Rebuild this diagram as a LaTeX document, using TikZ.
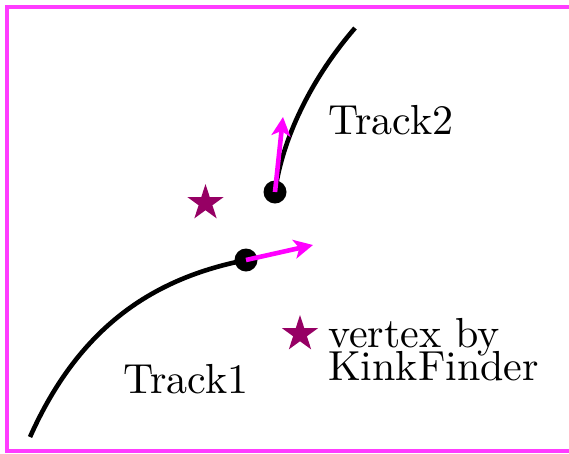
\documentclass[tikz,border=0pt]{standalone}
\usepackage{fontspec}
\setmainfont{lmroman10-regular}[Extension=.otf]
\usetikzlibrary{shapes.geometric,arrows.meta}
\definecolor{vtxpurple}{RGB}{150,0,100}
\definecolor{mag}{RGB}{255,0,255}
\definecolor{framemag}{RGB}{255,60,255}
\begin{document}
\begin{tikzpicture}[x=1pt,y=-1pt,
  trackline/.style={line width=4.6pt,black},
  dotnode/.style={circle,fill=black,inner sep=0pt,minimum size=23pt},
  momarrow/.style={line width=4.6pt,mag,-{Stealth[length=19pt,width=19pt,inset=5pt]}},
  vtxstar/.style={star,star points=5,star point ratio=2.618,fill=vtxpurple,inner sep=0pt,minimum size=38pt},
  lbl/.style={anchor=base west,inner sep=0pt,font=\fontsize{42}{34}\selectfont}]
\useasboundingbox (0,0) rectangle (569,453);
\begin{scope}
\clip (0,0) rectangle (569,453);
\draw[framemag,line width=3.2pt] (7,7) rectangle (580,451);
\end{scope}
% track ends
\node[dotnode] (t1end) at (246,260) {};
\node[dotnode] (t2end) at (275,192) {};
\coordinate (t1start) at (30,437);
\coordinate (t2start) at (355,28);
\coordinate (tip1) at (313,245);
\coordinate (tip2) at (283,117);
% tracks
\draw[trackline] (t1start) .. controls (80,325) and (155,278) .. (t1end.center);
\draw[trackline] (t2end.center) .. controls (282,140) and (310,80) .. (t2start);
% momentum arrows
\draw[momarrow] (t1end.center) -- (tip1);
\draw[momarrow] (t2end.center) -- (tip2);
% stars
\node[vtxstar] (vtx) at (205.5,203) {};
\node[vtxstar] (legstar) at (300,334) {};
% labels
\node[lbl] (lt2) at (328,134) {Track2};
\node[lbl] (lt1) at (123,393) {Track1};
\node[lbl] (leg1) at (328,347) {vertex by};
\node[lbl] (leg2) at (328,380) {KinkFinder};
\end{tikzpicture}
\end{document}
